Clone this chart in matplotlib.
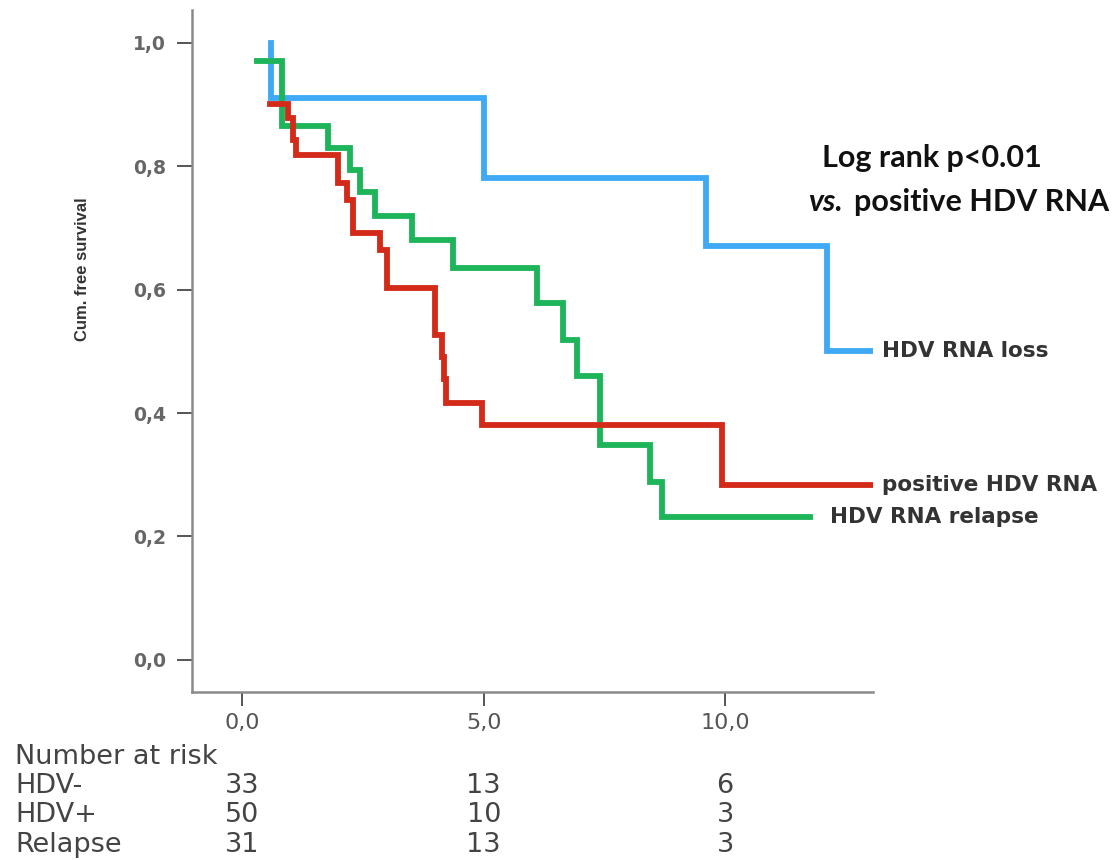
import matplotlib.pyplot as plt
import matplotlib.transforms as mtransforms

# Kaplan-Meier curves (years, cumulative free survival)
loss_t = [0.6, 0.6, 5.0, 9.6, 12.1, 13.05]
loss_s = [1.0, 0.91, 0.78, 0.67, 0.50, 0.50]

pos_t = [0.58, 0.95, 1.05, 1.12, 1.99, 2.17, 2.30, 2.86, 3.0, 4.0, 4.14, 4.18, 4.22, 4.97, 9.94, 13.05]
pos_s = [0.90, 0.878, 0.843, 0.818, 0.773, 0.745, 0.692, 0.664, 0.603, 0.527, 0.49, 0.455, 0.417, 0.38, 0.284, 0.284]

rel_t = [0.3, 0.83, 1.78, 2.24, 2.44, 2.75, 3.52, 4.37, 6.11, 6.65, 6.94, 7.41, 8.45, 8.70, 11.75]
rel_s = [0.97, 0.865, 0.83, 0.794, 0.758, 0.72, 0.68, 0.635, 0.579, 0.519, 0.46, 0.348, 0.288, 0.232, 0.232]

# number at risk table
risk_times = [0, 5, 10]
risk_groups = ['HDV-', 'HDV+', 'Relapse']
risk_values = [[33, 13, 6], [50, 10, 3], [31, 13, 3]]

xticks = [0, 5, 10]
xticklabels = ['0,0', '5,0', '10,0']
yticks = [0.0, 0.2, 0.4, 0.6, 0.8, 1.0]
yticklabels = ['0,0', '0,2', '0,4', '0,6', '0,8', '1,0']

col_loss = '#3fa9f5'
col_pos = '#d42a1a'
col_rel = '#1db45a'

fig = plt.figure(figsize=(11.12, 8.6), dpi=100)
ax = fig.add_axes([0.1727, 0.1953, 0.6123, 0.7931])

lw = 4.2
ax.step(loss_t, loss_s, where='post', color=col_loss, lw=lw, solid_joinstyle='miter')
ax.step(rel_t, rel_s, where='post', color=col_rel, lw=lw, solid_joinstyle='miter')
ax.step(pos_t, pos_s, where='post', color=col_pos, lw=lw, solid_joinstyle='miter')

ax.set_xlim(-1.04, 13.06)
ax.set_ylim(-0.052, 1.053)

for s in ['top', 'right']:
    ax.spines[s].set_visible(False)
for s in ['left', 'bottom']:
    ax.spines[s].set_color('#8a8a8a')
    ax.spines[s].set_linewidth(1.8)

ax.set_xticks(xticks)
ax.set_xticklabels(xticklabels, fontsize=16, color='#555555')
ax.set_yticks(yticks)
ax.set_yticklabels(yticklabels, fontsize=13.5, color='#666666', fontweight='bold')
ax.tick_params(axis='y', length=11, width=1.4, color='#555555', pad=8)
ax.tick_params(axis='x', length=10, width=1.4, color='#555555', pad=5)

fig.text(0.074, 0.687, 'Cum. free survival', rotation=90, ha='center', va='center',
         fontsize=12, fontweight='bold', color='#333333',
         family=['Liberation Sans', 'DejaVu Sans'])

# curve labels
lab_kw = dict(fontsize=15.5, fontweight='bold', color='#333333', va='center', clip_on=False)
ax.text(13.25, 0.50, 'HDV RNA loss', **lab_kw)
ax.text(13.25, 0.284, 'positive HDV RNA', **lab_kw)
ax.text(12.17, 0.232, 'HDV RNA relapse', **lab_kw)

# log rank annotation
fig.text(0.838, 0.816, 'Log rank p<0.01', ha='center', va='center', fontsize=22,
         fontweight='bold', family='Lato', color='#111111')
fig.text(0.758, 0.765, 'vs.', ha='right', va='center', fontsize=22,
         fontweight='bold', style='italic', family='Lato', color='#111111')
fig.text(0.768, 0.765, 'positive HDV RNA', ha='left', va='center', fontsize=22,
         fontweight='bold', family='Lato', color='#111111')

# number at risk table
trans = mtransforms.blended_transform_factory(ax.transData, fig.transFigure)
tab_kw = dict(fontsize=19.5, color='#444444', va='center')
fig.text(0.0135, 0.1198, 'Number at risk', **tab_kw)
row_y = [0.0860, 0.0523, 0.0174]
for name, vals, y in zip(risk_groups, risk_values, row_y):
    fig.text(0.0135, y, name, **tab_kw)
    for t, v in zip(risk_times, vals):
        ax.text(t, y, str(v), transform=trans, ha='center', clip_on=False, **tab_kw)

plt.savefig('out.png', dpi=100)
